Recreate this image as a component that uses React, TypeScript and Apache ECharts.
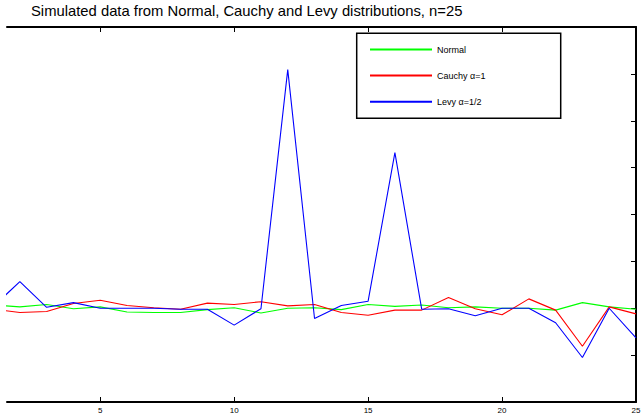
import React, { useEffect, useRef } from "react";
import * as echarts from "echarts";

const titleText = "Simulated data from Normal, Cauchy and Levy distributions, n=25";
const seriesNames = ["Normal", "Cauchy \u03b1=1", "Levy \u03b1=1/2"];
const seriesColors = ["#00ff00", "#ff0000", "#0000ff"];
const xIndex = [1, 2, 3, 4, 5, 6, 7, 8, 9, 10, 11, 12, 13, 14, 15, 16, 17, 18, 19, 20, 21, 22, 23, 24, 25];
const normalValues = [0.07, 0.03, 0.08, -0.01, 0.03, -0.08, -0.09, -0.09, -0.03, 0.01, -0.1, 0.0, 0.01, -0.03, 0.08, 0.04, 0.07, 0.01, 0.03, 0.0, 0.0, -0.04, 0.12, 0.03, -0.02];
const cauchyValues = [-0.02, -0.09, -0.07, 0.1, 0.17, 0.06, 0.01, -0.02, 0.11, 0.08, 0.14, 0.05, 0.08, -0.09, -0.15, -0.04, -0.04, 0.23, -0.01, -0.14, 0.2, -0.04, -0.81, 0.03, -0.12];
const levyValues = [0.03, 0.57, 0.02, 0.12, 0.0, 0.0, 0.0, -0.02, -0.02, -0.36, -0.01, 5.09, -0.22, 0.06, 0.15, 3.32, -0.02, -0.01, -0.16, 0.0, 0.0, -0.31, -1.05, 0.0, -0.63];
const xTicks = [5, 10, 15, 20, 25];
const xMin = 1.52;
const xMax = 25;
const yMin = -2;
const yMax = 6;
const yInterval = 1;

const FONT = "Liberation Sans, Arial, Helvetica, sans-serif";

export default function App() {
  const ref = useRef<HTMLDivElement>(null);
  useEffect(() => {
    if (!ref.current) return;
    const chart = echarts.init(ref.current, undefined, { renderer: "svg" });
    const allValues = [normalValues, cauchyValues, levyValues];
    const series = allValues.map((vals, k) => ({
      name: seriesNames[k],
      type: "line",
      data: xIndex.map((x, i) => [x, vals[i]]),
      symbol: "none",
      showSymbol: false,
      clip: true,
      lineStyle: { color: seriesColors[k], width: 1.1 },
      itemStyle: { color: seriesColors[k] },
      z: 2 + k,
    }));
    chart.setOption({
      animation: false,
      backgroundColor: "#ffffff",
      textStyle: { fontFamily: FONT },
      title: {
        text: titleText,
        left: 31,
        top: 3,
        padding: 0,
        textStyle: { fontFamily: FONT, fontSize: 14.8, fontWeight: "normal", color: "#000" },
      },
      grid: { left: 7, right: 6, top: 27, bottom: 11, containLabel: false, outerBoundsMode: "none" },
      legend: {
        data: seriesNames,
        orient: "vertical",
        left: 369,
        top: 45,
        padding: 0,
        itemWidth: 62,
        itemHeight: 10,
        itemGap: 17.1,
        z: 10,
        itemStyle: { opacity: 0 },
        textStyle: { fontFamily: FONT, fontSize: 9, color: "#000" },
      },
      graphic: [
        {
          type: "rect",
          z: 5,
          shape: { x: 356.7, y: 33.3, width: 204, height: 85 },
          style: { fill: "#ffffff", stroke: "#000", lineWidth: 1.5 },
        },
      ],
      xAxis: [
        {
          type: "value",
          position: "bottom",
          min: xMin,
          max: xMax,
          splitLine: { show: false },
          axisLine: { show: true, onZero: false, lineStyle: { color: "#000", width: 2 } },
          axisTick: { show: true, inside: true, length: 5, customValues: xTicks, lineStyle: { color: "#000", width: 1 } },
          axisLabel: { show: true, customValues: xTicks, margin: 4, fontSize: 8, color: "#000", fontFamily: FONT },
        },
        {
          type: "value",
          position: "top",
          min: xMin,
          max: xMax,
          splitLine: { show: false },
          axisLine: { show: true, onZero: false, lineStyle: { color: "#000", width: 2 } },
          axisTick: { show: true, inside: true, length: 5, customValues: xTicks, lineStyle: { color: "#000", width: 1 } },
          axisLabel: { show: false, customValues: xTicks },
        },
      ],
      yAxis: [
        {
          type: "value",
          position: "right",
          min: yMin,
          max: yMax,
          interval: yInterval,
          splitLine: { show: false },
          axisLine: { show: true, onZero: false, lineStyle: { color: "#000", width: 2 } },
          axisTick: { show: true, inside: true, length: 5, lineStyle: { color: "#000", width: 1 } },
          axisLabel: { show: false },
        },
      ],
      series,
    });
    return () => chart.dispose();
  }, []);
  return (
    <div
      ref={ref}
      style={{ position: "fixed", left: 0, top: 0, width: 642, height: 413, background: "#fff" }}
    />
  );
}
